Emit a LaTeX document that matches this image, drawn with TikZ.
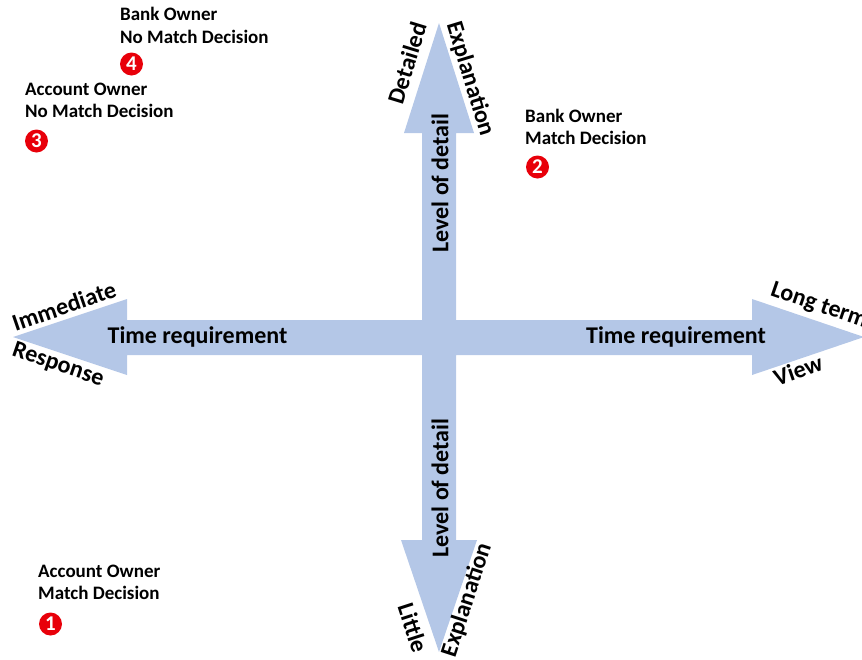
\documentclass[tikz,border=0pt]{standalone}
\usepackage{fontspec}
\setmainfont{Carlito}
\definecolor{arrowblue}{RGB}{180,199,231}
\definecolor{dotred}{RGB}{232,0,10}
\begin{document}
\begin{tikzpicture}[x=1pt,y=-1pt,
  axistext/.style={font=\bfseries\fontsize{24}{28}\selectfont, inner sep=0pt, text=black},
  headtext/.style={font=\bfseries\fontsize{24}{28}\selectfont, inner sep=0pt, text=black},
  cornertext/.style={font=\bfseries\fontsize{19}{22}\selectfont, inner sep=0pt, anchor=base west, text=black},
  numdot/.style={circle, fill=dotred, text=white, inner sep=0pt, minimum size=23pt, font=\bfseries\fontsize{21}{21}\selectfont}]
\useasboundingbox (0,0) rectangle (862,659);
\clip (0,0) rectangle (862,659);
% cross of four arrows
\fill[arrowblue] (13,337) -- (127,299) -- (127,320) -- (422,320) -- (422,133) -- (404,133) -- (439,23)
  -- (474,133) -- (456,133) -- (456,320) -- (752,320) -- (752,299) -- (864,337) -- (752,375)
  -- (752,355) -- (456,355) -- (456,540) -- (477,540) -- (439,652) -- (401,540) -- (422,540)
  -- (422,355) -- (127,355) -- (127,375) -- cycle;
% axis texts
\node[axistext] (tl) at (197.5,337) {Time requirement};
\node[axistext] (tr) at (676,337) {Time requirement};
\node[axistext, rotate=90] (lu) at (440,183) {Level of detail};
\node[axistext, rotate=90] (ld) at (440,488) {Level of detail};
% head labels
\node[headtext, rotate=19] (imm) at (64,306) {Immediate};
\node[headtext, rotate=-19] (resp) at (58,365) {Response};
\node[headtext, rotate=-19] (lt) at (819,306) {Long term};
\node[headtext, rotate=19] (view) at (798,370) {View};
\node[headtext, rotate=73] (det) at (407,63) {Detailed};
\node[headtext, rotate=-73] (expu) at (470,79) {Explanation};
\node[headtext, rotate=-72] (lit) at (413,628) {Little};
\node[headtext, rotate=72] (expd) at (467,600) {Explanation};
% corner labels
\node[cornertext] (b4a) at (120,20) {Bank Owner};
\node[cornertext] (b4b) at (120,43) {No Match Decision};
\node[numdot] (n4) at (131.5,64) {4};
\node[cornertext] (a3a) at (25,95) {Account Owner};
\node[cornertext] (a3b) at (25,117) {No Match Decision};
\node[numdot] (n3) at (36.5,141) {3};
\node[cornertext] (b2a) at (525,122) {Bank Owner};
\node[cornertext] (b2b) at (525,144) {Match Decision};
\node[numdot] (n2) at (537.5,167) {2};
\node[cornertext] (a1a) at (38,577) {Account Owner};
\node[cornertext] (a1b) at (38,599) {Match Decision};
\node[numdot] (n1) at (50.5,624) {1};
\end{tikzpicture}
\end{document}
